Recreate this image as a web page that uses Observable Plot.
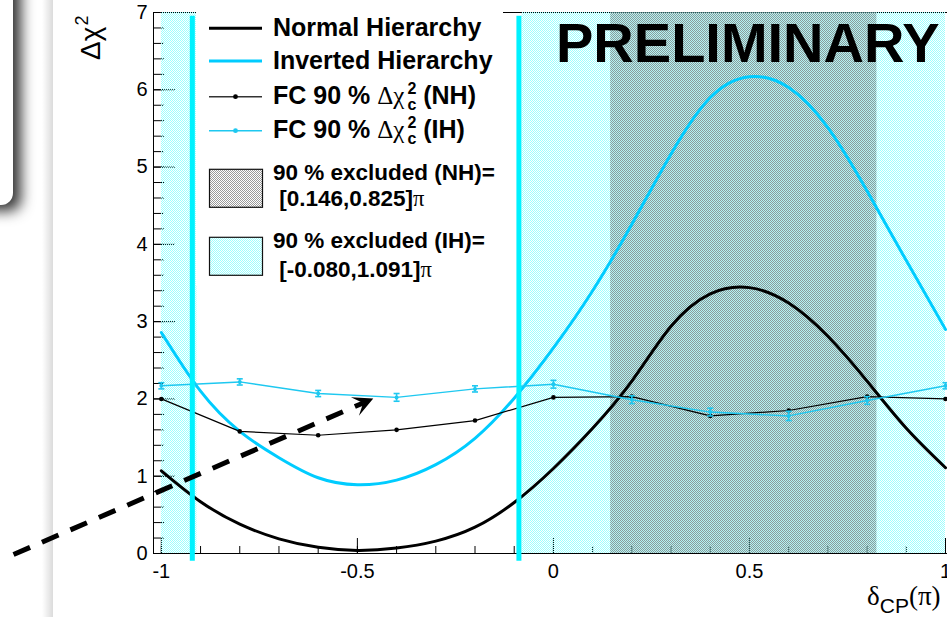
<!DOCTYPE html>
<html>
<head>
<meta charset="utf-8">
<script src="https://cdn.jsdelivr.net/npm/d3@7"></script>
<script src="https://cdn.jsdelivr.net/npm/@observablehq/plot@0.6"></script>
<style>
  html, body { margin: 0; padding: 0; background: #fff; }
  #page { position: relative; width: 947px; height: 617px; overflow: hidden; background: #fff; }
  #slideBox { position: absolute; left: -30px; top: -30px; width: 43px; height: 235px; background: #fff;
              border-radius: 12px; box-shadow: 8px 6px 14px rgba(0,0,0,0.8); }
  #edge { position: absolute; left: 42px; top: 0; width: 11px; height: 617px;
          background: linear-gradient(to right, rgba(0,0,0,0), rgba(0,0,0,0.14)); }
  #chart { position: absolute; left: 0; top: 0; }
</style>
</head>
<body>
<div id="page"><div id="slideBox"></div><div id="edge"></div><div id="chart"></div></div>
<script>
// ---- Δχ² scans versus δCP (in units of π) ----
const deltaCP = [-1.0, -0.9, -0.8, -0.7, -0.6, -0.5, -0.4, -0.3, -0.2, -0.1, 0.0,
                  0.1,  0.2,  0.3,  0.4,  0.5,  0.6,  0.7,  0.8,  0.9, 1.0];
const chi2NH  = [1.07, 0.67, 0.38, 0.19, 0.08, 0.04, 0.07, 0.16, 0.34, 0.66, 1.10,
                 1.62, 2.23, 2.94, 3.36, 3.44, 3.24, 2.81, 2.23, 1.62, 1.11];
const chi2IH  = [2.86, 2.10, 1.58, 1.24, 0.98, 0.89, 0.95, 1.15, 1.49, 2.01, 2.66,
                 3.40, 4.26, 5.17, 5.90, 6.17, 6.03, 5.51, 4.69, 3.79, 2.90];

// ---- Feldman-Cousins 90 % critical values ----
const fcDelta = [-1.0, -0.8, -0.6, -0.4, -0.2, 0.0, 0.2, 0.4, 0.6, 0.8, 1.0];
const fcNH    = [2.00, 1.58, 1.53, 1.60, 1.72, 2.02, 2.03, 1.78, 1.85, 2.03, 2.00];
const fcIH    = [2.17, 2.22, 2.07, 2.02, 2.13, 2.19, 1.99, 1.83, 1.78, 1.98, 2.17];
const fcIHErr = [0.04, 0.04, 0.04, 0.05, 0.04, 0.05, 0.05, 0.05, 0.06, 0.05, 0.04];

// ---- 90 % excluded intervals (units of π) ----
const exclNH = [0.146, 0.825];
const exclIH = [-0.080, 1.091];          // upper edge wraps round to 1.091 - 2
const ihEdgeLines = [-0.921, -0.088];    // boundary markers of the IH interval

// ---- axis ticks ----
const xTickLabels = [-1, -0.5, 0, 0.5, 1];
const yTickLabels = [0, 1, 2, 3, 4, 5, 6, 7];
const xMinorTicks = d3.range(-10, 11).map(i => i / 10);
const yMinorTicks = d3.range(0, 36).map(i => i / 5);

// ---- annotation arrow (data units) ----
const arrowFrom = {x: -1.377, y: -0.013};
const arrowTo   = {x: -0.4665, y: 1.989};

// ---- layout ----
const W = 947, H = 617, mL = 153, mR = 0, mT = 12, mB = 64;
const xDomain = [-1.02, 1.0051], yDomain = [0, 7];
const plotW = W - mL - mR, plotH = H - mT - mB;
const kx = plotW / (xDomain[1] - xDomain[0]);
const ky = plotH / (yDomain[1] - yDomain[0]);

const black = "#000", ihColor = "#00ccff", fcIhColor = "#1ec8f0", edgeColor = "#00f2ff";

// IH excluded interval split at the ±π boundary
const ihBands = [
  {from: exclIH[0], to: 1},
  {from: -1, to: exclIH[1] - 2}
];
const nhBands = [{from: exclNH[0], to: exclNH[1]}];

// arrow geometry in screen space
const adx = (arrowTo.x - arrowFrom.x) * kx;
const ady = -(arrowTo.y - arrowFrom.y) * ky;
const aLen = Math.hypot(adx, ady);
const aAng = Math.atan2(ady, adx);
const shaftT = 1 - 8 / aLen;
const shaft = [{
  x1: arrowFrom.x, y1: arrowFrom.y,
  x2: arrowFrom.x + (arrowTo.x - arrowFrom.x) * shaftT,
  y2: arrowFrom.y + (arrowTo.y - arrowFrom.y) * shaftT
}];
const headSymbol = {
  draw(ctx) {
    const c = Math.cos(aAng), s = Math.sin(aAng);
    const pts = [[3, 0], [-17, -10], [-8, 0], [-17, 10]];
    pts.forEach(([u, v], i) => {
      const px = u * c - v * s, py = u * s + v * c;
      i ? ctx.lineTo(px, py) : ctx.moveTo(px, py);
    });
    ctx.closePath();
  }
};
const capSymbol = {draw(ctx) { ctx.moveTo(-3, 0); ctx.lineTo(3, 0); }};

const plot = Plot.plot({
  width: W, height: H,
  marginLeft: mL, marginRight: mR, marginTop: mT, marginBottom: mB,
  x: {domain: xDomain},
  y: {domain: yDomain},
  style: {fontFamily: "'Liberation Sans', Arial, sans-serif", fontSize: "20px",
          background: "transparent", overflow: "visible", color: "#000"},
  marks: [
    Plot.frame({stroke: black}),
    // inward tick marks
    Plot.tickY(yMinorTicks, {y: d => d, insetRight: plotW - 11, stroke: black}),
    Plot.tickY(yTickLabels, {y: d => d, insetRight: plotW - 22, stroke: black}),
    Plot.tickX(xMinorTicks, {x: d => d, insetTop: plotH - 7, stroke: black}),
    Plot.tickX(xTickLabels, {x: d => d, insetTop: plotH - 15, stroke: black}),
    Plot.axisY({ticks: yTickLabels, tickSize: 0, tickPadding: 6, label: null, fontSize: 20,
                tickFormat: d => String(d)}),
    Plot.axisX({ticks: xTickLabels, tickSize: 0, tickPadding: 10, label: null, fontSize: 20,
                tickFormat: d => String(d)}),
    // excluded regions
    Plot.rect(ihBands, {x1: "from", x2: "to", fill: "url(#ihFill)"}),
    Plot.rect(nhBands, {x1: "from", x2: "to", fill: "url(#nhFill)"}),
    // Δχ² curves
    Plot.line(deltaCP, {x: d => d, y: chi2NH, curve: "natural", stroke: black, strokeWidth: 3}),
    Plot.line(deltaCP, {x: d => d, y: chi2IH, curve: "natural", stroke: ihColor, strokeWidth: 3}),
    // FC critical values
    Plot.line(fcDelta, {x: d => d, y: fcNH, stroke: black, strokeWidth: 1.2}),
    Plot.dot(fcDelta, {x: d => d, y: fcNH, r: 2.3, fill: black}),
    Plot.line(fcDelta, {x: d => d, y: fcIH, stroke: fcIhColor, strokeWidth: 1.4}),
    Plot.ruleX(fcDelta, {x: d => d, y1: (d, i) => fcIH[i] - fcIHErr[i], y2: (d, i) => fcIH[i] + fcIHErr[i],
                         stroke: fcIhColor, strokeWidth: 1.6}),
    Plot.dot(fcDelta, {x: d => d, y: (d, i) => fcIH[i] - fcIHErr[i], symbol: capSymbol, r: 3,
                       stroke: fcIhColor, fill: "none", strokeWidth: 1.6}),
    Plot.dot(fcDelta, {x: d => d, y: (d, i) => fcIH[i] + fcIHErr[i], symbol: capSymbol, r: 3,
                       stroke: fcIhColor, fill: "none", strokeWidth: 1.6}),
    Plot.dot(fcDelta, {x: d => d, y: fcIH, r: 2, fill: fcIhColor}),
    // IH interval boundary markers
    Plot.ruleX(ihEdgeLines, {x: d => d, y1: -0.1, y2: 6.95, stroke: edgeColor, strokeWidth: 5}),
    // annotation arrow
    Plot.link(shaft, {x1: "x1", y1: "y1", x2: "x2", y2: "y2", stroke: black, strokeWidth: 5,
                      strokeDasharray: "18,13"}),
    Plot.dot([arrowTo], {x: "x", y: "y", symbol: headSymbol, r: 6, fill: black, stroke: "none"})
  ]
});

const svg = d3.select(plot);

// fill patterns (1-pixel checkerboards)
const defs = svg.insert("defs", ":first-child");
function checker(id, cells) {
  const p = defs.append("pattern").attr("id", id)
    .attr("width", 2).attr("height", 2).attr("patternUnits", "userSpaceOnUse");
  cells.forEach(([x, y, c]) => p.append("rect").attr("x", x).attr("y", y)
    .attr("width", 1).attr("height", 1).attr("fill", c));
}
checker("ihFill", [[0, 0, "#9cffff"], [1, 1, "#9cffff"]]);
checker("nhFill", [[0, 0, "#8a9c9c"], [1, 1, "#8a9c9c"],
                   [1, 0, "rgba(70,225,225,0.4)"], [0, 1, "rgba(70,225,225,0.4)"]]);
checker("nhKey", [[0, 0, "#9a9a9a"], [1, 1, "#9a9a9a"]]);

const sans = "'Liberation Sans', Arial, sans-serif";
const serif = "'Liberation Serif', 'Times New Roman', serif";

// ---- legend ----
const lg = svg.append("g").attr("font-family", sans).attr("font-weight", "bold")
  .attr("fill", "#000").attr("text-anchor", "start");
lg.append("rect").attr("x", 196).attr("y", 4).attr("width", 307).attr("height", 282).attr("fill", "#fff");

const keyX1 = 209, keyX2 = 262, textX = 273;
const lineRows = [
  {label: "Normal Hierarchy", stroke: black, width: 3, cy: 28.3, base: 35.5},
  {label: "Inverted Hierarchy", stroke: ihColor, width: 3, cy: 61, base: 69}
];
lineRows.forEach(r => {
  lg.append("line").attr("x1", keyX1).attr("x2", keyX2).attr("y1", r.cy).attr("y2", r.cy)
    .attr("stroke", r.stroke).attr("stroke-width", r.width);
  lg.append("text").attr("x", textX).attr("y", r.base).attr("font-size", 25).text(r.label);
});

const fcRows = [
  {tag: "NH", stroke: "#333", dot: black, cy: 96.7, base: 104},
  {tag: "IH", stroke: fcIhColor, dot: fcIhColor, cy: 130.7, base: 137.5}
];
fcRows.forEach(r => {
  lg.append("line").attr("x1", keyX1).attr("x2", keyX2).attr("y1", r.cy).attr("y2", r.cy)
    .attr("stroke", r.stroke).attr("stroke-width", 1.5);
  lg.append("circle").attr("cx", (keyX1 + keyX2) / 2).attr("cy", r.cy).attr("r", 2.4).attr("fill", r.dot);
  const t = lg.append("text").attr("x", textX).attr("y", r.base).attr("font-size", 25);
  t.append("tspan").text("FC 90 % ");
  t.append("tspan").attr("font-family", serif).attr("font-weight", "normal").text("Δχ");
  t.append("tspan").attr("font-size", 16).attr("dx", 3).attr("dy", -10).text("2");
  t.append("tspan").attr("font-size", 16).attr("dx", -8.9).attr("dy", 16).text("c");
  t.append("tspan").attr("dy", -6).text(" (" + r.tag + ")");
});

const boxRows = [
  {tag: "NH", range: exclNH, fill: "url(#nhKey)", y: 169.3, h: 38, base1: 180, base2: 206},
  {tag: "IH", range: exclIH, fill: "url(#ihFill)", y: 237.3, h: 38, base1: 247.5, base2: 276.5}
];
boxRows.forEach(r => {
  lg.append("rect").attr("x", keyX1 + 0.5).attr("y", r.y).attr("width", keyX2 - keyX1).attr("height", r.h)
    .attr("fill", r.fill).attr("stroke", "#111").attr("stroke-width", 1.2);
  lg.append("text").attr("x", textX).attr("y", r.base1).attr("font-size", 22.5)
    .text("90 % excluded (" + r.tag + ")=");
  const t = lg.append("text").attr("x", textX).attr("y", r.base2).attr("font-size", 22.5);
  t.append("tspan").text(" [" + r.range.map(v => v.toFixed(3)).join(",") + "]");
  t.append("tspan").attr("font-family", serif).attr("font-weight", "normal").text("π");
});

// ---- stamp ----
svg.append("text").attr("x", 556).attr("y", 62).attr("text-anchor", "start")
  .attr("font-family", sans).attr("font-weight", "bold")
  .attr("font-size", 56).attr("fill", "#000").text("PRELIMINARY");

// ---- axis titles ----
const yt = svg.append("text").attr("transform", "translate(100,60) rotate(-90)").attr("text-anchor", "start")
  .attr("font-family", sans).attr("font-size", 28).attr("fill", "#000");
yt.append("tspan").text("Δχ");
yt.append("tspan").attr("font-size", 18).attr("dx", 1).attr("dy", -12).text("2");

const xt = svg.append("text").attr("x", 867).attr("y", 605).attr("text-anchor", "start").attr("fill", "#000");
xt.append("tspan").attr("font-family", serif).attr("font-size", 27).text("δ");
xt.append("tspan").attr("font-family", sans).attr("font-size", 21).attr("dy", 8).text("CP");
xt.append("tspan").attr("font-family", serif).attr("font-size", 27).attr("dy", -8).text("(π)");

document.getElementById("chart").appendChild(plot);
</script>
</body>
</html>
